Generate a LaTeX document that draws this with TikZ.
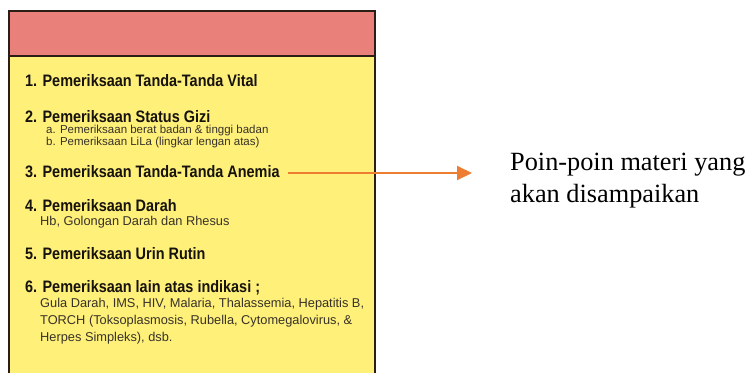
\documentclass[tikz,border=0pt]{standalone}
\usepackage{fontspec}
\setmainfont{Liberation Serif}
\setsansfont{Liberation Sans}
\usepackage{graphicx}
\usepackage{tikz}
\usetikzlibrary{arrows.meta, positioning}
\usepackage{xcolor}
\definecolor{cardborder}{RGB}{43, 30, 22}
\definecolor{headerred}{RGB}{233, 128, 122}
\definecolor{cardyellow}{RGB}{255, 240, 122}
\definecolor{headtext}{RGB}{22, 18, 14}
\definecolor{subtext}{RGB}{55, 50, 40}
\definecolor{arroworange}{RGB}{237, 125, 49}
\newcommand{\headtxt}[1]{\scalebox{0.87}[1]{#1}}

\begin{document}
\begin{tikzpicture}[x=1pt, y=-1pt,
    heading/.style={anchor=west, inner sep=0pt, text=headtext,
        font=\sffamily\bfseries\fontsize{16.6}{17}\selectfont},
    detail/.style={anchor=west, inner sep=0pt, text=subtext, align=left,
        font=\sffamily\fontsize{11.5}{17}\selectfont},
    bigdetail/.style={detail, font=\sffamily\fontsize{12.8}{17}\selectfont},
    pointer/.style={draw=arroworange, line width=2pt,
        -{Triangle[length=15pt, width=14pt, fill=arroworange]}}]
    \clip (0,0) rectangle (752,372);
    % card
    \fill[cardyellow] (9,11) rectangle (375,390);
    \fill[headerred] (9,11) rectangle (375,56);
    \draw[cardborder, line width=2.2pt] (9,11) rectangle (375,390);
    \draw[cardborder, line width=2pt] (9,56) -- (375,56);
    % items
    \node[heading] (vital) at (25,81) {\headtxt{1. Pemeriksaan Tanda-Tanda Vital}};
    \node[heading] (gizi) at (25,117) {\headtxt{2. Pemeriksaan Status Gizi}};
    \node[detail] (gizia) at (46,131) {a. Pemeriksaan berat badan \& tinggi badan};
    \node[detail] (gizib) at (46,143) {b. Pemeriksaan LiLa (lingkar lengan atas)};
    \node[heading] (anemia) at (25,172) {\headtxt{3. Pemeriksaan Tanda-Tanda Anemia}};
    \node[heading] (darah) at (25,206) {\headtxt{4. Pemeriksaan Darah}};
    \node[bigdetail] (darahsub) at (40,222) {Hb, Golongan Darah dan Rhesus};
    \node[heading] (urin) at (25,254) {\headtxt{5. Pemeriksaan Urin Rutin}};
    \node[heading] (lain) at (25,288) {\headtxt{6. Pemeriksaan lain atas indikasi ;}};
    \node[bigdetail] (lainsub) at (40,321) {Gula Darah, IMS, HIV, Malaria, Thalassemia, Hepatitis B,\\
        TORCH (Toksoplasmosis, Rubella, Cytomegalovirus, \&\\
        Herpes Simpleks), dsb.};
    % note
    \node[anchor=west, inner sep=0pt, align=left, font=\fontsize{26.3}{32}\selectfont] (note) at (510,181)
        {Poin-poin materi yang\\akan disampaikan};
    \coordinate (tip) at (472,173);
    \draw[pointer] ([xshift=8pt]anemia.east |- 0,173) -- (tip);
\end{tikzpicture}
\end{document}
